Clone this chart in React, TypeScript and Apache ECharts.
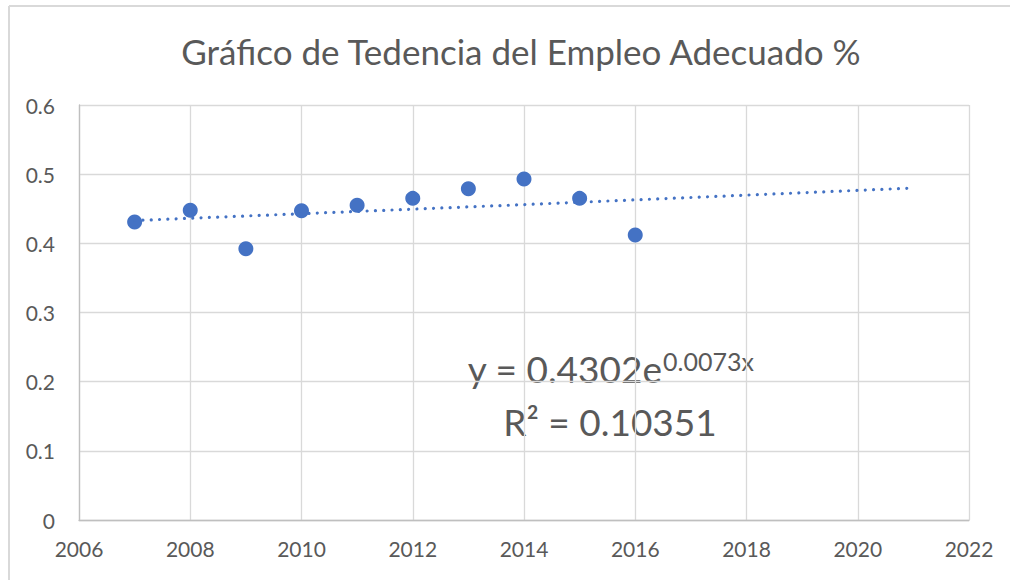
import React, { useEffect, useRef } from "react";
import * as echarts from "echarts";

const titleText = "Gráfico de Tedencia del Empleo Adecuado %";
const years = [2007, 2008, 2009, 2010, 2011, 2012, 2013, 2014, 2015, 2016];
const values = [0.431, 0.448, 0.392, 0.447, 0.455, 0.465, 0.479, 0.493, 0.465, 0.412];
const trendYears = [2007, 2014, 2021];
const trendValues = [0.433, 0.456, 0.48];
const equationMain = "y = 0.4302e";
const equationExp = "0.0073x";
const rSquared = "R² = 0.10351";

const FONT = "Lato, 'Noto Sans', sans-serif";
const TEXT = "#595959";
const BLUE = "#4472C4";

export default function App() {
  const ref = useRef<HTMLDivElement>(null);
  useEffect(() => {
    if (!ref.current) return;
    const chart = echarts.init(ref.current, undefined, { renderer: "svg" });
    chart.setOption({
      animation: false,
      backgroundColor: "#ffffff",
      title: {
        text: titleText,
        left: 516,
        top: 28,
        textAlign: "center",
        textStyle: { fontFamily: FONT, fontSize: 35, fontWeight: "normal", color: TEXT },
      },
      grid: { left: 79, right: 41, top: 105, bottom: 60, containLabel: false },
      xAxis: {
        type: "value",
        min: 2006,
        max: 2022,
        interval: 2,
        axisLine: { show: true, lineStyle: { color: "#BFBFBF", width: 1.3 } },
        axisTick: { show: false },
        splitLine: { show: true, lineStyle: { color: "#D9D9D9", width: 1.3 } },
        axisLabel: {
          fontFamily: FONT,
          fontSize: 21,
          color: TEXT,
          margin: 18,
          formatter: (v: number) => String(Math.round(v)),
        },
      },
      yAxis: {
        type: "value",
        min: 0,
        max: 0.6,
        interval: 0.1,
        axisLine: { show: true, lineStyle: { color: "#BFBFBF", width: 1.3 } },
        axisTick: { show: false },
        splitLine: { show: true, lineStyle: { color: "#D9D9D9", width: 1.3 } },
        axisLabel: {
          fontFamily: FONT,
          fontSize: 21,
          color: TEXT,
          margin: 24,
          formatter: (v: number) => String(Number(v.toFixed(1))),
        },
      },
      series: [
        {
          type: "scatter",
          data: years.map((y, i) => [y, values[i]]),
          symbol: "circle",
          symbolSize: 15,
          itemStyle: { color: BLUE, opacity: 1 },
          z: 2,
        },
        {
          type: "line",
          data: trendYears.map((y, i) => [y, trendValues[i]]),
          showSymbol: false,
          symbol: "none",
          lineStyle: { color: BLUE, width: 3.2, type: [0.01, 8.3], cap: "round", opacity: 1 },
          z: 3,
        },
      ],
      graphic: [
        {
          type: "line",
          shape: { x1: 9, y1: 6, x2: 1010, y2: 6 },
          style: { stroke: "#D9D9D9", lineWidth: 2 },
        },
        {
          type: "line",
          shape: { x1: 9, y1: 6, x2: 9, y2: 580 },
          style: { stroke: "#D9D9D9", lineWidth: 2 },
        },
        {
          type: "text",
          x: 662,
          y: 368,
          style: {
            text: equationMain,
            fontFamily: FONT,
            fontSize: 37,
            fill: TEXT,
            align: "right",
            verticalAlign: "middle",
          },
        },
        {
          type: "text",
          x: 663,
          y: 361,
          style: {
            text: equationExp,
            fontFamily: FONT,
            fontSize: 25,
            fill: TEXT,
            align: "left",
            verticalAlign: "middle",
          },
        },
        {
          type: "text",
          x: 610,
          y: 421,
          style: {
            text: rSquared,
            fontFamily: FONT,
            fontSize: 37,
            fill: TEXT,
            align: "center",
            verticalAlign: "middle",
          },
        },
      ],
    });
    return () => chart.dispose();
  }, []);
  return (
    <div
      ref={ref}
      style={{ position: "fixed", left: 0, top: 0, width: 1010, height: 580 }}
    />
  );
}
